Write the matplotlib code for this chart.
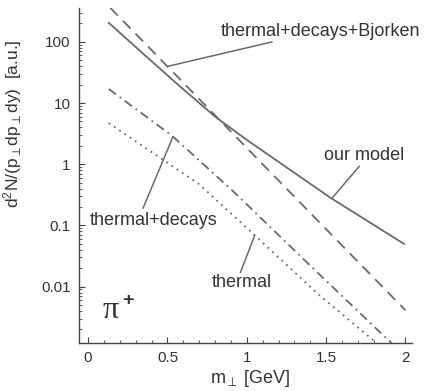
import numpy as np
import matplotlib
matplotlib.use("Agg")
import matplotlib.pyplot as plt
from matplotlib.ticker import MultipleLocator, LogLocator, NullFormatter, FixedLocator

plt.rcParams['font.family'] = ['Liberation Sans', 'DejaVu Sans']
plt.rcParams['mathtext.fontset'] = 'custom'
plt.rcParams['mathtext.rm'] = 'Liberation Sans'
plt.rcParams['mathtext.it'] = 'Liberation Sans:italic'
plt.rcParams['mathtext.bf'] = 'Liberation Sans:bold'

# --- data ---
model_x = [0.13, 0.35, 0.58, 0.80, 1.00, 1.21, 1.53, 1.99]
model_y = [205, 63, 18.6, 6.0, 2.5, 1.05, 0.28, 0.05]

bjorken_x = [0.14, 0.60, 1.10, 1.60, 2.00]
bjorken_y = [360, 21.5, 1.00, 0.047, 0.0041]

decays_x = [0.13, 0.53, 0.91, 1.40, 1.91, 2.00]
decays_y = [17, 2.9, 0.37, 0.022, 0.0012, 0.00075]

thermal_x = [0.13, 0.70, 1.05, 1.45, 1.82, 2.00]
thermal_y = [4.7, 0.47, 0.069, 0.0075, 0.00118, 0.00045]

xticks = [0, 0.5, 1, 1.5, 2]
xticklabels = ['0', '0.5', '1', '1.5', '2']
yticks = [0.01, 0.1, 1, 10, 100]
yticklabels = ['0.01', '0.1', '1', '10', '100']

line_col = '#6a6a6a'
text_col = '#333333'

fig = plt.figure(figsize=(4.25, 3.91), dpi=100)
ax = fig.add_axes([0.186, 0.123, 0.783, 0.857])

ax.plot(model_x, model_y, color=line_col, lw=1.3, ls='-')
ax.plot(bjorken_x, bjorken_y, color=line_col, lw=1.3, ls=(0, (6, 4)))
ax.plot(decays_x, decays_y, color=line_col, lw=1.3, ls=(0, (5, 2.5, 1, 2.5)))
ax.plot(thermal_x, thermal_y, color=line_col, lw=1.3, ls=(0, (1, 2.5)))

ax.set_yscale('log')
ax.set_xlim(-0.057, 2.04)
ax.set_ylim(0.0012, 360)

ax.spines['top'].set_visible(False)
ax.spines['right'].set_visible(False)
for s in ('left', 'bottom'):
    ax.spines[s].set_color('#444444')
    ax.spines[s].set_linewidth(1.0)

ax.xaxis.set_major_locator(FixedLocator(xticks))
ax.set_xticklabels(xticklabels)
ax.xaxis.set_minor_locator(MultipleLocator(0.1))
ax.yaxis.set_major_locator(FixedLocator(yticks))
ax.set_yticklabels(yticklabels)
ax.yaxis.set_minor_locator(LogLocator(base=10, subs=np.arange(2, 10)))
ax.yaxis.set_minor_formatter(NullFormatter())
ax.tick_params(which='major', direction='in', length=4, width=0.8, color='#444444',
               labelsize=11, labelcolor=text_col, pad=6)
ax.tick_params(which='minor', direction='in', length=2.5, width=0.6, color='#444444')

ax.set_ylabel(r'd$^2$N/(p$_\perp$dp$_\perp$dy)  [a.u.]', fontsize=12.5, color=text_col)
ax.yaxis.set_label_coords(-0.165, 0.655)
ax.set_xlabel(r'm$_\perp$ [GeV]', fontsize=13, color=text_col)
ax.xaxis.set_label_coords(0.515, -0.075)

def on_curve(xs, ys, x):
    return 10 ** np.interp(x, xs, np.log10(ys))

ann_kw = dict(arrowprops=dict(arrowstyle='-', color=line_col, lw=1.1, shrinkA=0, shrinkB=0))

# thermal+decays+Bjorken
ax.annotate('', xy=(0.50, on_curve(bjorken_x, bjorken_y, 0.50)), xytext=(1.16, 100), **ann_kw)
ax.text(1.465, 145, 'thermal+decays+Bjorken', fontsize=13, color=text_col, ha='center', va='center')

# our model
ax.annotate('', xy=(1.535, on_curve(model_x, model_y, 1.535)), xytext=(1.71, 0.93), **ann_kw)
ax.text(1.74, 1.41, 'our model', fontsize=13, color=text_col, ha='center', va='center')

# thermal+decays
ax.annotate('', xy=(0.535, on_curve(decays_x, decays_y, 0.535)), xytext=(0.346, 0.19), **ann_kw)
ax.text(0.41, 0.12, 'thermal+decays', fontsize=13, color=text_col, ha='center', va='center')

# thermal
ax.annotate('', xy=(1.05, on_curve(thermal_x, thermal_y, 1.05)), xytext=(0.96, 0.017), **ann_kw)
ax.text(0.97, 0.0118, 'thermal', fontsize=13, color=text_col, ha='center', va='center')

ax.text(0.072, 0.075, 'π', transform=ax.transAxes, fontsize=23, family=['Liberation Serif'],
        color=text_col, ha='left', va='baseline')
ax.text(0.128, 0.112, '+', transform=ax.transAxes, fontsize=14, fontweight='bold',
        color=text_col, ha='left', va='baseline')

fig.savefig('out.png', dpi=100)
